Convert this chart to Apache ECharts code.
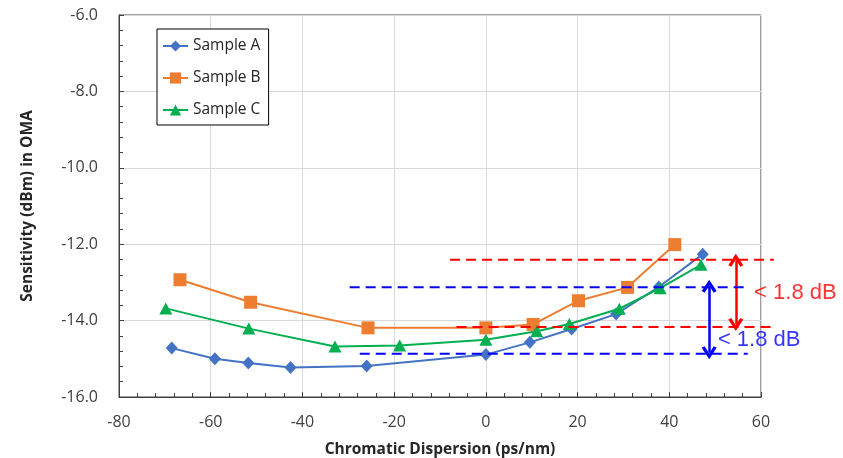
<!DOCTYPE html>
<html><head><meta charset="utf-8">
<script src="https://cdn.jsdelivr.net/npm/echarts@6/dist/echarts.min.js"></script>
<style>html,body{margin:0;padding:0;background:#fff}#c{width:843px;height:458px}</style>
</head><body><div id="c"></div>
<script>
const xA = [-68.5,-59.1,-51.8,-42.6,-26.0,0,9.6,18.7,28.4,37.7,47.3];
const yA = [-14.72,-15.0,-15.11,-15.23,-15.19,-14.89,-14.57,-14.22,-13.83,-13.12,-12.26];
const xB = [-66.7,-51.3,-25.7,0,10.3,20.2,30.9,41.2];
const yB = [-12.93,-13.52,-14.19,-14.19,-14.10,-13.48,-13.13,-12.01];
const xC = [-69.8,-51.7,-32.9,-18.8,0,11.1,18.2,29.1,38.0,46.9];
const yC = [-13.68,-14.21,-14.68,-14.65,-14.5,-14.28,-14.09,-13.69,-13.15,-12.54];
const seriesNames = ['Sample A','Sample B','Sample C'];
// annotation reference lines: [xStart, xEnd, y]
const redLines = [[-7.8,62.8,-12.41],[-6.4,62.8,-14.17]];
const blueLines = [[-29.7,57.3,-13.13],[-27.5,57.1,-14.87]];
// arrows: [x, yTop, yBottom]
const redArrow = [54.5,-12.42,-14.1];
const blueArrow = [48.7,-13.10,-14.84];
// text labels: [x, y, text]
const redText = [58.5,-13.27,'< 1.8 dB'];
const blueText = [50.6,-14.50,'< 1.8 dB'];

const zip = (xs, ys) => xs.map((x, i) => [x, ys[i]]);
const FONT = 'Open Sans';
const chart = echarts.init(document.getElementById('c'));

function dashed(lines, color) {
  return {type:'custom', data:lines, clip:false, silent:true, z:5,
    encode:{x:[0,1], y:2},
    renderItem:(params, api) => {
      const p1 = api.coord([api.value(0), api.value(2)]);
      const p2 = api.coord([api.value(1), api.value(2)]);
      return {type:'line', shape:{x1:p1[0], y1:p1[1], x2:p2[0], y2:p2[1]},
        style:{stroke:color, lineWidth:2, lineDash:[10,6], fill:null}};
    }};
}
const CHEVRON = 'path://M0,10 L5,0 L10,10 L8,11.4 L5,5 L2,11.4 Z';
function arrow(a, color) {
  return {type:'line', data:[], silent:true,
    markLine:{silent:true, symbol:[CHEVRON, CHEVRON], symbolSize:[15,13], label:{show:false},
      lineStyle:{color:color, width:2.5, type:'solid'},
      data:[[{coord:[a[0],a[1]]},{coord:[a[0],a[2]]}]]}};
}
function txt(t, color) {
  return {type:'scatter', data:[[t[0],t[1]]], symbolSize:0, clip:false, silent:true,
    label:{show:true, position:'right', distance:0, formatter:t[2], color:color, fontSize:22, fontFamily:'Liberation Sans'}};
}

chart.setOption({
  animation:false,
  grid:{left:119, right:82, top:15, bottom:61, show:true, borderColor:'#404040', borderWidth:1,
    containLabel:false, outerBoundsMode:'none'},
  legend:{
    data:seriesNames, orient:'vertical', left:157, top:29,
    backgroundColor:'#fff', borderColor:'#000', borderWidth:1,
    padding:[9,8,7,5], itemGap:16, itemWidth:25, itemHeight:14,
    textStyle:{fontFamily:FONT, fontSize:15.5, color:'#262626'}
  },
  xAxis:{
    type:'value', min:-80, max:60, interval:20,
    name:'Chromatic Dispersion (ps/nm)', nameLocation:'middle', nameGap:45,
    nameTextStyle:{fontFamily:FONT, fontSize:15.5, fontWeight:'bold', color:'#262626'},
    axisLine:{show:true, onZero:false, lineStyle:{color:'#404040'}},
    axisTick:{show:true, inside:true, length:5, lineStyle:{color:'#404040'}},
    minorTick:{show:true, splitNumber:5, length:4, lineStyle:{color:'#404040'}},
    axisLabel:{fontFamily:FONT, fontSize:16, color:'#404040', margin:17},
    splitLine:{show:true, lineStyle:{color:'#D9D9D9', width:1}}
  },
  yAxis:{
    type:'value', min:-16, max:-6, interval:2,
    name:'Sensitivity (dBm) in OMA', nameLocation:'middle', nameGap:83,
    nameTextStyle:{fontFamily:FONT, fontSize:15.5, fontWeight:'bold', color:'#262626'},
    axisLine:{show:true, onZero:false, lineStyle:{color:'#404040'}},
    axisTick:{show:true, inside:true, length:5, lineStyle:{color:'#404040'}},
    minorTick:{show:true, splitNumber:5, length:4, lineStyle:{color:'#404040'}},
    axisLabel:{fontFamily:FONT, fontSize:16, color:'#404040', margin:21, formatter:v => v.toFixed(1)},
    splitLine:{show:true, lineStyle:{color:'#D9D9D9', width:1}}
  },
  series:[
    {name:seriesNames[0], type:'line', data:zip(xA,yA), symbol:'diamond', symbolSize:[12,13],
      itemStyle:{color:'#4472C4'}, lineStyle:{color:'#4472C4', width:2}, z:3},
    {name:seriesNames[1], type:'line', data:zip(xB,yB), symbol:'rect', symbolSize:13,
      itemStyle:{color:'#ED7D31'}, lineStyle:{color:'#ED7D31', width:2}, z:2},
    {name:seriesNames[2], type:'line', data:zip(xC,yC), symbol:'triangle', symbolSize:[13,12],
      itemStyle:{color:'#00B050'}, lineStyle:{color:'#00B050', width:2}, z:4},
    dashed(redLines,'#FF0000'),
    dashed(blueLines,'#0000FF'),
    arrow(redArrow,'#FF0000'),
    arrow(blueArrow,'#0000FF'),
    txt(redText,'#FF0000'),
    txt(blueText,'#0000FF')
  ]
});
</script></body></html>
